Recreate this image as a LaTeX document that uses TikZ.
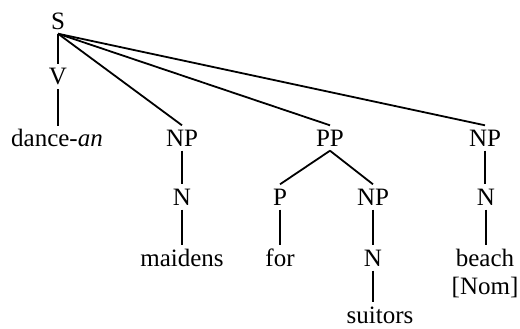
\documentclass[tikz,border=0pt]{standalone}
\usepackage{fontspec}
\setmainfont{Liberation Serif}
\usetikzlibrary{positioning}
\tikzset{
  cat/.style={inner sep=2pt, text height=8.3pt, text depth=0pt, font=\fontsize{12.5}{14}\selectfont},
  word/.style={cat},
  leafbox/.style={inner sep=2pt, align=center, anchor=north, font=\fontsize{12.5}{14}\selectfont},
  branch/.style={line width=0.9pt},
}

\begin{document}
\begin{tikzpicture}[x=0.5pt,y=-0.5pt]
  \useasboundingbox (0,0) rectangle (520,328);
  % top level
  \node[cat] (S) at (58,21) {S};
  \node[cat] (V) at (58,76.5) {V};
  \node[word] (dance) at (57,138.5) {dance-\textit{an}};
  \node[cat] (NPa) at (182,138) {NP};
  \node[cat] (PP) at (330,138) {PP};
  \node[cat] (NPc) at (485,138) {NP};
  % second level
  \node[cat] (Na) at (182,197) {N};
  \node[cat] (P) at (280,197) {P};
  \node[cat] (NPb) at (373,197) {NP};
  \node[cat] (Nc) at (486,197) {N};
  % words
  \node[word] (maidens) at (182,258) {maidens};
  \node[word] (for) at (280,258) {for};
  \node[cat] (Nb) at (373,258) {N};
  \node[word] (suitors) at (380,315) {suitors};
  \node[leafbox] (beach) at (485,245) {beach\\{[Nom]}};

  \draw[branch] (S.south) -- (V.north);
  \draw[branch] (V.south) -- (V.south |- dance.north);
  \draw[branch] (S.south) -- (NPa.north);
  \draw[branch] (S.south) -- (PP.north);
  \draw[branch] (S.south) -- (NPc.north);
  \draw[branch] (NPa.south) -- (Na.north);
  \draw[branch] (Na.south) -- (maidens.north);
  \draw[branch] (PP.south) -- (P.north);
  \draw[branch] (PP.south) -- (NPb.north);
  \draw[branch] (P.south) -- (for.north);
  \draw[branch] (NPb.south) -- (Nb.north);
  \draw[branch] (Nb.south) -- (Nb.south |- suitors.north);
  \draw[branch] (NPc.south) -- (NPc.south |- Nc.north);
  \draw[branch] (Nc.south) -- (Nc.south |- beach.north);
\end{tikzpicture}
\end{document}
